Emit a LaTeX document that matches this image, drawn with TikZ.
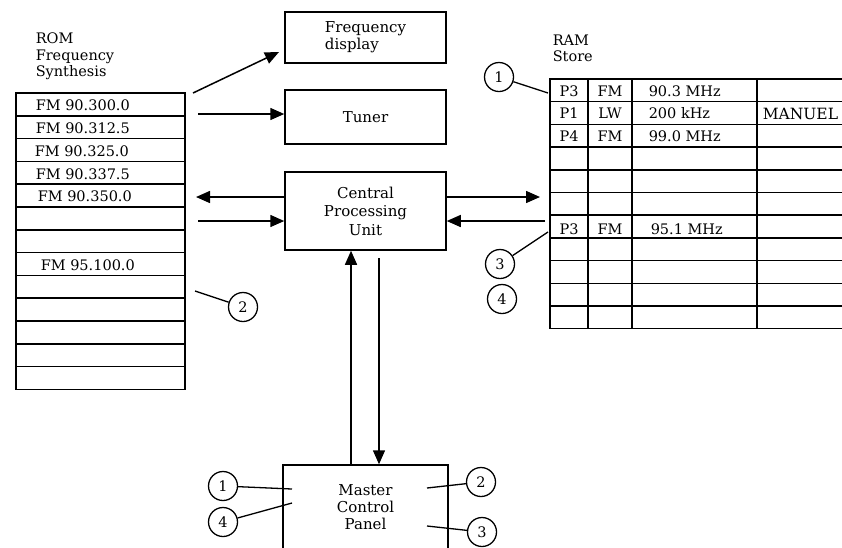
\documentclass[tikz,border=0pt]{standalone}
\usepackage{fontspec}
\setmainfont{DejaVu Serif}
\usepackage{tikz}
\usetikzlibrary{arrows.meta,positioning}

\begin{document}
\begin{tikzpicture}[x=1pt,y=-1pt,line width=1.5pt,
  blk/.style={draw,minimum width=161pt,inner sep=0pt,align=left,
    font=\fontsize{15}{17}\selectfont},
  txt/.style={inner sep=0pt,font=\fontsize{14.5}{16.5}\selectfont,align=left},
  cell/.style={inner sep=0pt,font=\fontsize{14.5}{16}\selectfont},
  tag/.style={draw,circle,minimum size=29pt,inner sep=0pt,line width=1.3pt,
    font=\fontsize{14.5}{15}\selectfont},
  conn/.style={-{Triangle[length=14pt,width=12pt]}},
  lead/.style={line width=1.3pt}]
\clip (0,0) rectangle (842,547);
% ---------- ROM, 13 rows ----------
\node[txt,anchor=north west] (romlbl) at (35,32) {ROM\\Frequency\\Synthesis};
\draw (16,93) rectangle (185,389.4);
\foreach \r in {1,...,12} {\draw (16,93+\r*22.8) -- (185,93+\r*22.8);}
\node[cell,anchor=west] (rom0) at (35,105.5) {FM 90.300.0};
\node[cell,anchor=west] (rom1) at (35,128.3) {FM 90.312.5};
\node[cell,anchor=west] (rom2) at (34,151.1) {FM 90.325.0};
\node[cell,anchor=west] (rom3) at (35,173.9) {FM 90.337.5};
\node[cell,anchor=west] (rom4) at (37,196.7) {FM 90.350.0};
\node[cell,anchor=west] (rom7) at (40,265.1) {FM 95.100.0};
% ---------- RAM, 11 rows ----------
\node[txt,anchor=north west] (ramlbl) at (552,34) {RAM\\Store};
\draw (550,79) rectangle (860,328.7);
\foreach \r in {1,...,10} {\draw (550,79+\r*22.7) -- (860,79+\r*22.7);}
\foreach \c in {588,632,757} {\draw (\c,79) -- (\c,328.7);}
\node[cell] (p0) at (569,91) {P3};
\node[cell] (b0) at (610,91) {FM};
\node[cell,anchor=west] (f0) at (648,91) {90.3 MHz};
\node[cell] (p1) at (569,113.5) {P1};
\node[cell] (b1) at (610,113.5) {LW};
\node[cell,anchor=west] (f1) at (648,113.5) {200 kHz};
\node[cell,anchor=west,font=\fontsize{15.5}{17}\selectfont] (m1) at (762,113.5) {MANUEL};
\node[cell] (p2) at (569,136) {P4};
\node[cell] (b2) at (610,136) {FM};
\node[cell,anchor=west] (f2) at (648,136) {99.0 MHz};
\node[cell] (p6) at (569,229) {P3};
\node[cell] (b6) at (610,229) {FM};
\node[cell,anchor=west] (f6) at (650,229) {95.1 MHz};
% ---------- blocks ----------
\node[blk,minimum height=51pt] (disp) at (365.5,37.5) {Frequency\\display};
\node[blk,minimum height=54pt] (tuner) at (365.5,117) {Tuner};
\node[blk,minimum height=78pt,align=center,
  font=\fontsize{15}{18.5}\selectfont] (cpu) at (365.5,211) {Central\\Processing\\Unit};
\node[draw,minimum width=165pt,minimum height=100pt] (mcp) at (365.5,515) {};
\node[txt,align=center,font=\fontsize{15}{17}\selectfont] (mcptxt) at (365.5,507) {Master\\Control\\Panel};
% ---------- arrows ----------
\coordinate (ra) at (193,93);
\coordinate (da) at (279,52);
\coordinate (rb) at (198,114);
\coordinate (ro) at (196,197);
\coordinate (ri) at (198,221);
\coordinate (mo) at (540,197);
\coordinate (mi) at (545,221);
\coordinate (dn) at (379,258);
\draw[conn] (ra) -- (da);
\draw[conn] (rb) -- (rb -| tuner.west);
\draw[conn] (ro -| cpu.west) -- (ro);
\draw[conn] (ri) -- (ri -| cpu.west);
\draw[conn] (mo -| cpu.east) -- (mo);
\draw[conn] (mi) -- (mi -| cpu.east);
\draw[conn] (mcp.north -| 351,0) -- (cpu.south -| 351,0);
\draw[conn] (dn) -- (dn |- mcp.north);
% ---------- numbered tags ----------
\node[tag] (t1r) at (499,77) {1};
\node[tag] (t3r) at (500,264) {3};
\node[tag] (t4r) at (502,299) {4};
\node[tag] (t2l) at (243,307) {2};
\node[tag] (t1m) at (223,486) {1};
\node[tag] (t4m) at (223,522) {4};
\node[tag] (t2m) at (481,482) {2};
\node[tag] (t3m) at (482,532) {3};
\coordinate (e1r) at (548,93);
\coordinate (e3r) at (548,232);
\coordinate (e2l) at (195,291);
\coordinate (e1m) at (292,489);
\coordinate (e4m) at (292,503);
\coordinate (e2m) at (427,488);
\coordinate (e3m) at (427,526);
\draw[lead] (t1r) -- (e1r);
\draw[lead] (t3r) -- (e3r);
\draw[lead] (t2l) -- (e2l);
\draw[lead] (t1m) -- (e1m);
\draw[lead] (t4m) -- (e4m);
\draw[lead] (t2m) -- (e2m);
\draw[lead] (t3m) -- (e3m);
\end{tikzpicture}
\end{document}
